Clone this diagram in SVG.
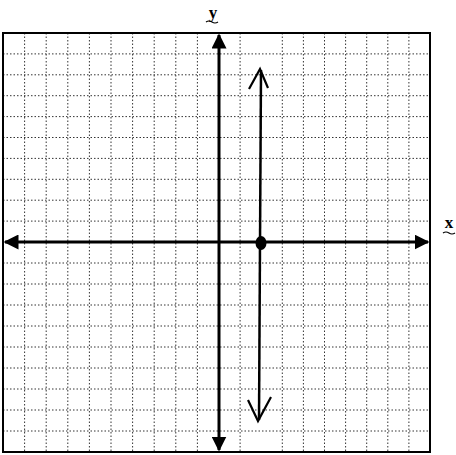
<svg xmlns="http://www.w3.org/2000/svg" width="456" height="455" viewBox="0 0 456 455">
<style>
.grid line{stroke:#333;stroke-width:1;stroke-dasharray:1.5 2}
.axis{stroke:#000;stroke-width:3;fill:none}
.lbl{font-family:"Liberation Serif",serif;font-size:17px;font-weight:bold;fill:#000;text-anchor:middle}
</style>
<defs>
<marker id="ah" viewBox="0 0 10 10" refX="9" refY="5" markerWidth="5" markerHeight="5" orient="auto-start-reverse" markerUnits="strokeWidth">
<path d="M0,0 L10,5 L0,10 Z" fill="#000"/>
</marker>
</defs>
<rect width="456" height="455" fill="#fff"/>
<g class="grid" id="grid">
<line x1="24.6" y1="33" x2="24.6" y2="452"/>
<line x1="46.2" y1="33" x2="46.2" y2="452"/>
<line x1="67.8" y1="33" x2="67.8" y2="452"/>
<line x1="89.4" y1="33" x2="89.4" y2="452"/>
<line x1="111" y1="33" x2="111" y2="452"/>
<line x1="132.6" y1="33" x2="132.6" y2="452"/>
<line x1="154.2" y1="33" x2="154.2" y2="452"/>
<line x1="175.8" y1="33" x2="175.8" y2="452"/>
<line x1="197.4" y1="33" x2="197.4" y2="452"/>
<line x1="240.1" y1="33" x2="240.1" y2="452"/>
<line x1="282.3" y1="33" x2="282.3" y2="452"/>
<line x1="303.4" y1="33" x2="303.4" y2="452"/>
<line x1="324.5" y1="33" x2="324.5" y2="452"/>
<line x1="345.6" y1="33" x2="345.6" y2="452"/>
<line x1="366.7" y1="33" x2="366.7" y2="452"/>
<line x1="387.8" y1="33" x2="387.8" y2="452"/>
<line x1="408.9" y1="33" x2="408.9" y2="452"/>
<line x1="3" y1="53.9" x2="430" y2="53.9"/>
<line x1="3" y1="74.8" x2="430" y2="74.8"/>
<line x1="3" y1="95.7" x2="430" y2="95.7"/>
<line x1="3" y1="116.6" x2="430" y2="116.6"/>
<line x1="3" y1="137.5" x2="430" y2="137.5"/>
<line x1="3" y1="158.4" x2="430" y2="158.4"/>
<line x1="3" y1="179.3" x2="430" y2="179.3"/>
<line x1="3" y1="200.2" x2="430" y2="200.2"/>
<line x1="3" y1="221.1" x2="430" y2="221.1"/>
<line x1="3" y1="263" x2="430" y2="263"/>
<line x1="3" y1="284" x2="430" y2="284"/>
<line x1="3" y1="305" x2="430" y2="305"/>
<line x1="3" y1="326" x2="430" y2="326"/>
<line x1="3" y1="347" x2="430" y2="347"/>
<line x1="3" y1="368" x2="430" y2="368"/>
<line x1="3" y1="389" x2="430" y2="389"/>
<line x1="3" y1="410" x2="430" y2="410"/>
<line x1="3" y1="431" x2="430" y2="431"/>
</g>
<rect id="frame" x="3" y="33" width="427" height="419" fill="none" stroke="#000" stroke-width="2"/>
<g id="connectors">
<line class="axis" x1="219" y1="242" x2="219" y2="35" marker-end="url(#ah)"/>
<line class="axis" x1="219" y1="242" x2="219" y2="450" marker-end="url(#ah)"/>
<line class="axis" x1="219" y1="242" x2="5" y2="242" marker-end="url(#ah)"/>
<line class="axis" x1="219" y1="242" x2="428" y2="242" marker-end="url(#ah)"/>
<line x1="261" y1="70" x2="259" y2="420" stroke="#000" stroke-width="2.5"/>
<path d="M249,89 L260,69 L268,88" fill="none" stroke="#000" stroke-width="2.2"/>
<path d="M248,400 L258,421 L271,397" fill="none" stroke="#000" stroke-width="2.2"/>
</g>
<g id="point">
<ellipse cx="261" cy="243" rx="5.5" ry="7" fill="#000"/>
</g>
<g id="label-y">
<text class="lbl" x="213" y="18">y</text>
<path d="M206,22 q3,-2 6,0 t6,0" fill="none" stroke="#000" stroke-width="1.2"/>
</g>
<g id="label-x">
<text class="lbl" x="449" y="228">x</text>
<path d="M443,233 q3,-2 6,0 t6,0" fill="none" stroke="#000" stroke-width="1.2"/>
</g>
</svg>
